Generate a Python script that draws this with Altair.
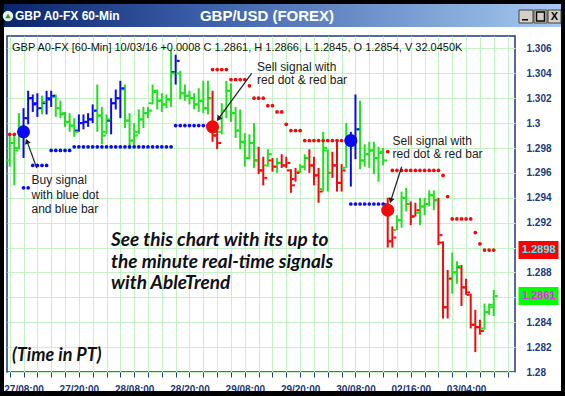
import math
import altair as alt
import pandas as pd

# ---------------- GBP/USD 60-minute bars (oldest first) ----------------
opens = [1.2970, 1.2984, 1.2980, 1.2994, 1.3004, 1.3020, 1.3015, 1.3012, 1.3016, 1.3020,
         1.3021, 1.3012, 1.3007, 1.3001, 1.2998, 1.2994, 1.3000, 1.3001, 1.3003, 1.3010,
         1.3006, 1.2993, 1.3002, 1.3016, 1.3020, 1.3027, 1.3002, 1.2986, 1.2993, 1.3003,
         1.3008, 1.3016, 1.3025, 1.3018, 1.3015, 1.3019, 1.3041, 1.3040, 1.3024, 1.3022,
         1.3020, 1.3015, 1.3018, 1.3012, 1.3020, 1.2990, 1.2993, 1.3010, 1.3026, 1.3008,
         1.2994, 1.2985, 1.2972, 1.2984, 1.2970, 1.2962, 1.2966, 1.2970, 1.2965, 1.2968,
         1.2966, 1.2962, 1.2955, 1.2961, 1.2965, 1.2972, 1.2966, 1.2958, 1.2947, 1.2978,
         1.2960, 1.2966, 1.2952, 1.2964, 1.2985, 1.2988, 1.2995, 1.2970, 1.2975, 1.2978,
         1.2972, 1.2976, 1.2935, 1.2905, 1.2914, 1.2922, 1.2940, 1.2935, 1.2925, 1.2928,
         1.2933, 1.2935, 1.2942, 1.2938, 1.2904, 1.2852, 1.2875, 1.2880, 1.2884, 1.2868,
         1.2862, 1.2838, 1.2836, 1.2835, 1.2848, 1.2854]
highs = [1.2991, 1.2991, 1.3008, 1.3012, 1.3026, 1.3023, 1.3024, 1.3022, 1.3026, 1.3026,
         1.3023, 1.3018, 1.3009, 1.3008, 1.3004, 1.3007, 1.3007, 1.3008, 1.3015, 1.3031,
         1.3013, 1.3007, 1.3020, 1.3027, 1.3034, 1.3031, 1.3008, 1.3000, 1.3011, 1.3013,
         1.3013, 1.3031, 1.3027, 1.3024, 1.3023, 1.3059, 1.3055, 1.3042, 1.3031, 1.3026,
         1.3024, 1.3028, 1.3034, 1.3034, 1.3026, 1.2999, 1.3016, 1.3034, 1.3032, 1.3013,
         1.3011, 1.2992, 1.2991, 1.3000, 1.2981, 1.2973, 1.2979, 1.2972, 1.2972, 1.2975,
         1.2973, 1.2963, 1.2964, 1.2967, 1.2975, 1.2979, 1.2973, 1.2964, 1.2993, 1.2979,
         1.2977, 1.2985, 1.2967, 1.3000, 1.2993, 1.3023, 1.3018, 1.2983, 1.2985, 1.2985,
         1.2981, 1.2980, 1.2940, 1.2917, 1.2926, 1.2945, 1.2948, 1.2937, 1.2936, 1.2940,
         1.2940, 1.2946, 1.2946, 1.2940, 1.2905, 1.2882, 1.2896, 1.2889, 1.2886, 1.2875,
         1.2863, 1.2850, 1.2842, 1.2855, 1.2855, 1.2866]
lows = [1.2965, 1.2950, 1.2979, 1.2972, 1.2999, 1.3009, 1.3005, 1.3007, 1.3007, 1.3013,
        1.3005, 1.3004, 1.2997, 1.2993, 1.2989, 1.2993, 1.2995, 1.2997, 1.3000, 1.2993,
        1.2983, 1.2991, 1.2991, 1.3011, 1.3004, 1.2996, 1.2979, 1.2981, 1.2991, 1.2996,
        1.3004, 1.3015, 1.3011, 1.3009, 1.3012, 1.3013, 1.3031, 1.3019, 1.3018, 1.3015,
        1.3011, 1.3009, 1.3008, 1.3007, 1.2985, 1.2979, 1.2991, 1.3004, 1.3001, 1.2988,
        1.2979, 1.2965, 1.2971, 1.2964, 1.2959, 1.2950, 1.2965, 1.2961, 1.2960, 1.2964,
        1.2964, 1.2944, 1.2953, 1.2960, 1.2962, 1.2960, 1.2950, 1.2936, 1.2945, 1.2945,
        1.2956, 1.2945, 1.2945, 1.2964, 1.2949, 1.2971, 1.2963, 1.2965, 1.2964, 1.2959,
        1.2953, 1.2966, 1.2900, 1.2900, 1.2914, 1.2916, 1.2929, 1.2918, 1.2925, 1.2918,
        1.2926, 1.2933, 1.2930, 1.2902, 1.2843, 1.2843, 1.2863, 1.2871, 1.2853, 1.2862,
        1.2835, 1.2816, 1.2830, 1.2834, 1.2846, 1.2845]
closes = [1.2984, 1.2978, 1.2997, 1.3004, 1.3020, 1.3016, 1.3012, 1.3017, 1.3019, 1.3022,
          1.3012, 1.3008, 1.3001, 1.2998, 1.2993, 1.3000, 1.3001, 1.3003, 1.3010, 1.3006,
          1.2990, 1.3003, 1.3016, 1.3020, 1.3028, 1.3002, 1.2986, 1.2990, 1.3003, 1.3008,
          1.3010, 1.3026, 1.3018, 1.3015, 1.3019, 1.3040, 1.3050, 1.3024, 1.3022, 1.3020,
          1.3015, 1.3018, 1.3012, 1.3020, 1.2990, 1.2984, 1.3010, 1.3026, 1.3008, 1.2994,
          1.2985, 1.2972, 1.2984, 1.2970, 1.2962, 1.2956, 1.2975, 1.2965, 1.2968, 1.2966,
          1.2968, 1.2950, 1.2960, 1.2965, 1.2972, 1.2966, 1.2958, 1.2945, 1.2980, 1.2960,
          1.2966, 1.2952, 1.2962, 1.2985, 1.2988, 1.2995, 1.2970, 1.2975, 1.2978, 1.2972,
          1.2977, 1.2970, 1.2905, 1.2908, 1.2922, 1.2940, 1.2935, 1.2925, 1.2930, 1.2933,
          1.2935, 1.2942, 1.2938, 1.2910, 1.2852, 1.2875, 1.2880, 1.2885, 1.2868, 1.2864,
          1.2838, 1.2836, 1.2833, 1.2848, 1.2852, 1.2861]
# AbleTrend bar colour: G = neutral (green), B = up trend (blue), R = down trend (red)
trend = list("GGGBBBBGBB" "GGGGGBBBBG" "GGBBBGGGGG" "GGGGGGBGGG" "GGGGRRGGGG"
             "GGGGRRGRGR" "RRRGGRRRGG" "RRRGBBGGGG" "GGRRGGGRRG" "GGGRRRGGRR" "RRRGGG")

# AbleTrend stop dots per bar (None = no stop plotted), and their side
stop_level = ([1.2991, 1.2991, None] + [1.2948] * 2 + [1.2966] * 4 + [1.2978] * 5 + [1.2981] * 22
              + [1.2998] * 8 + [1.3043] * 4 + [1.3035] * 4 + [1.3030] + [1.3020] * 3 + [1.3014] * 2
              + [1.3009] * 2 + [1.2999] + [1.2994] * 3 + [1.2986] * 10 + [1.2935] * 8 + [1.2977]
              + [1.2962] * 11 + [1.2958, 1.2941] + [1.2923] * 5 + [1.2912, 1.2903] + [1.2898] * 3)
stop_side = (["R", "R", ""] + ["B"] * 41 + ["R"] * 30 + ["B"] * 8 + ["R"] * 24)

# Buy / sell signal markers
signal_bar = [3, 44, 74, 82]
signal_price = [1.2993, 1.2997, 1.2986, 1.2930]
signal_side = ["B", "R", "B", "R"]

# Time axis (Pacific time), one label every 12 bars
time_label_bar = [3, 15, 27, 39, 51, 63, 75, 87, 99]
time_label_text = ["27/08:00", "27/20:00", "28/08:00", "28/20:00", "29/08:00",
                   "29/20:00", "30/08:00", "02/16:00", "03/04:00"]

# Flags on the price scale: current stop and last close
stop_flag_price = 1.2898
close_flag_price = 1.2861

# ---------------- layout ----------------
PLOT_W, PLOT_H = 508, 336
X_MIN = -0.586
X_MAX = X_MIN + PLOT_W / 4.61
Y_MIN, Y_MAX = 1.28, 1.307
PX_BAR = PLOT_W / (X_MAX - X_MIN)
PX_UNIT = PLOT_H / (Y_MAX - Y_MIN)

GREEN, BLUE, RED = "#1ee11e", "#0a0af0", "#f00a0a"
NAVY = "#1b3a7a"
GRID = "#c4f2c4"
color_scale = alt.Scale(domain=["G", "B", "R"], range=[GREEN, BLUE, RED])

n = len(opens)
bars = pd.DataFrame({"bar": list(range(n)), "open": opens, "high": highs,
                     "low": lows, "close": closes, "trend": trend})
stops = pd.DataFrame({"bar": list(range(n)), "level": stop_level, "side": stop_side}).dropna()
signals = pd.DataFrame({"bar": signal_bar, "price": signal_price, "side": signal_side})

label_expr = " : ".join(f"datum.value == {b} ? '{t}'" for b, t in zip(time_label_bar, time_label_text)) + " : ''"
# price labels hidden where a flag sits on top of them
covered = " || ".join(f"abs(datum.value - {p}) < 0.0007" for p in (stop_flag_price, close_flag_price))
price_expr = f"({covered}) ? '' : format(datum.value, '.3~f')"

x_axis = alt.Axis(values=list(range(0, 109, 3)), labelExpr=label_expr, grid=True, gridColor=GRID,
                  gridWidth=1, domain=False, tickColor=NAVY, tickSize=5, tickWidth=1,
                  labelFont="Liberation Sans", labelFontSize=10, labelFontWeight="bold",
                  labelColor=NAVY, labelPadding=7, labelAngle=0, labelOverlap=False,
                  labelFlush=False, title=None)
y_axis = alt.Axis(orient="right", values=[round(1.28 + 0.002 * i, 3) for i in range(14)],
                  labelExpr=price_expr, grid=True, gridColor=GRID, gridWidth=1,
                  domain=False, ticks=False, labelFont="Liberation Sans", labelFontSize=10,
                  labelFontWeight="bold", labelColor=NAVY, labelAlign="left", labelPadding=11,
                  title=None)
xs = alt.Scale(domain=[X_MIN, X_MAX], nice=False, zero=False)
ys = alt.Scale(domain=[Y_MIN, Y_MAX], nice=False, zero=False)


def X(field):
    return alt.X(f"{field}:Q", scale=xs, axis=x_axis, title=None)


def Y(field):
    return alt.Y(f"{field}:Q", scale=ys, axis=y_axis, title=None)


def px_to_data(x, y):
    return X_MIN + x / PX_BAR, Y_MAX - y / PX_UNIT


one = pd.DataFrame({"k": [0]})

# high-low bars with open (left) and close (right) ticks
hl = alt.Chart(bars).mark_rule(strokeWidth=2).encode(
    x=X("bar"), y=Y("low"), y2="high:Q", color=alt.Color("trend:N", scale=color_scale, legend=None))
op = alt.Chart(bars).mark_tick(orient="horizontal", size=3, thickness=2, xOffset=-2.5, opacity=1).encode(
    x=X("bar"), y=Y("open"), color=alt.Color("trend:N", scale=color_scale, legend=None))
cl = alt.Chart(bars).mark_tick(orient="horizontal", size=3, thickness=2, xOffset=2.5, opacity=1).encode(
    x=X("bar"), y=Y("close"), color=alt.Color("trend:N", scale=color_scale, legend=None))

dots = alt.Chart(stops).mark_circle(size=14, opacity=1).encode(
    x=X("bar"), y=Y("level"), color=alt.Color("side:N", scale=color_scale, legend=None))
sig = alt.Chart(signals).mark_circle(size=170, opacity=1).encode(
    x=X("bar"), y=Y("price"), color=alt.Color("side:N", scale=color_scale, legend=None))

# annotation arrows: from the caption towards the signal dot
arrow_tail_px = [(29.7, 132.0), (244.7, 37.3), (394.7, 130.7)]
arrow_signal = [0, 1, 3]
rows = []
for (tx, ty), s in zip(arrow_tail_px, arrow_signal):
    hx = (signal_bar[s] - X_MIN) * PX_BAR
    hy = (Y_MAX - signal_price[s]) * PX_UNIT
    dx, dy = hx - tx, hy - ty
    length = math.hypot(dx, dy)
    ux, uy = dx / length, dy / length
    ex, ey = hx - ux * 7.0, hy - uy * 7.0
    cx, cy = ex - ux * 3.0, ey - uy * 3.0
    t_i, t_p = px_to_data(tx, ty)
    e_i, e_p = px_to_data(ex - ux * 4, ey - uy * 4)
    c_i, c_p = px_to_data(cx, cy)
    rows.append({"x": t_i, "y": t_p, "x2": e_i, "y2": e_p, "hx": c_i, "hy": c_p,
                 "ang": (math.degrees(math.atan2(ux, -uy)) + 360) % 360})
arrows = pd.DataFrame(rows)
arrow_lines = alt.Chart(arrows).mark_rule(strokeWidth=1.2, color="#222222").encode(
    x=X("x"), y=Y("y"), x2="x2:Q", y2="y2:Q")
arrow_heads = alt.Chart(arrows).mark_point(shape="triangle-up", filled=True, size=38, opacity=1,
                                           color="#222222").encode(
    x=X("hx"), y=Y("hy"), angle=alt.Angle("ang:Q", scale=None))


# price flags on the right scale
def flag(price, fill, ink):
    d = pd.DataFrame({"price": [price], "text": [f"{price:.4f}"]})
    box_ = alt.Chart(d).mark_tick(orient="vertical", size=18, thickness=40, opacity=1, color=fill).encode(
        x=alt.value(531.5), y=Y("price"))
    txt = alt.Chart(d).mark_text(align="left", baseline="middle", font="Liberation Sans", fontSize=11,
                                 fontWeight="bold", color=ink).encode(
        x=alt.value(515), y=Y("price"), text="text:N")
    return [box_, txt]


flags = flag(stop_flag_price, "#ff0000", "#40f0ff") + flag(close_flag_price, "#00ff00", "#ff20ff")


def label(x, y, text, size=12, weight="normal", style="normal", color="#222222", font="Liberation Sans",
          align="left", baseline="middle", line=None):
    mk = dict(align=align, baseline=baseline, font=font, fontSize=size, fontWeight=weight,
              fontStyle=style, color=color)
    if line:
        mk["lineHeight"] = line
    return alt.Chart(one).mark_text(**mk).encode(x=alt.value(x), y=alt.value(y), text=alt.value(text))


def box(x, y, x2, y2, fill, stroke=None):
    mk = dict(color=fill, opacity=1)
    if stroke:
        mk.update(stroke=stroke, strokeWidth=1)
    return alt.Chart(one).mark_rect(**mk).encode(
        x=alt.value(x), x2=alt.value(x2), y=alt.value(y), y2=alt.value(y2))


texts = [
    label(5, 12, "GBP A0-FX [60-Min] 10/03/16 +0.0008 C 1.2861, H 1.2866, L 1.2845, O 1.2854, V 32.0450K",
          size=11, color="#111111"),
    label(24.5, 139, ["Buy signal", "with blue dot", "and blue bar"], baseline="top", line=14.5),
    label(250, 25.5, ["Sell signal with", "red dot & red bar"], baseline="top", line=13.5),
    label(385.5, 99.5, ["Sell signal with", "red dot & red bar"], baseline="top", line=13.5),
    label(104, 195, ["See this chart with its up to", "the minute real-time signals", "with AbleTrend"],
          size=19, weight="bold", style="italic", font="Lato", color="#101018", baseline="top", line=21.5),
    label(5, 320, "(Time in PT)", size=18, weight="bold", style="italic", font="Lato",
          color="#111111", baseline="middle"),
]

# window chrome: black border, caption bar and buttons
title_grad = alt.LinearGradient(gradient="linear", x1=0, x2=1, y1=0, y2=0,
                                stops=[alt.GradientStop(color="#0a246a", offset=0),
                                       alt.GradientStop(color="#3a5ea8", offset=0.35),
                                       alt.GradientStop(color="#a6caf0", offset=1)])
chrome = [
    box(-7, -36, 558, -32, "#000000"),
    box(-7, -36, -3, 360, "#000000"),
    box(554, -36, 558, 360, "#000000"),
    box(-7, 355, 558, 360, "#000000"),
    alt.Chart(one).mark_rect(color=title_grad).encode(
        x=alt.value(-3), x2=alt.value(554), y=alt.value(-32), y2=alt.value(-9)),
    alt.Chart(one).mark_circle(size=110, color="#e8efe8", opacity=1).encode(x=alt.value(1), y=alt.value(-20)),
    alt.Chart(one).mark_point(shape="triangle-up", filled=True, size=30, color="#2a9a2a", opacity=1).encode(
        x=alt.value(1), y=alt.value(-20)),
    label(8, -20.5, "GBP A0-FX 60-Min", size=12, weight="bold", color="#ffffff"),
    label(260, -20.5, "GBP/USD (FOREX)", size=15, weight="bold", color="#ffffff", align="center"),
    box(512, -26, 526, -13, "#d4d0c8", "#404040"),
    box(527, -26, 540, -13, "#d4d0c8", "#404040"),
    box(541, -26, 554, -13, "#d4d0c8", "#404040"),
    box(515, -17, 521, -15.5, "#000000"),
    alt.Chart(one).mark_rect(filled=False, stroke="#000000", strokeWidth=1.5).encode(
        x=alt.value(529.5), x2=alt.value(537.5), y=alt.value(-24), y2=alt.value(-15)),
    label(547.5, -19.5, "X", size=11, weight="bold", color="#000000", align="center"),
]

chart = alt.layer(
    hl, op, cl, dots, sig, arrow_lines, arrow_heads, *flags, *texts, *chrome
).properties(
    width=PLOT_W, height=PLOT_H,
    autosize=alt.AutoSizeParams(type="none"),
    padding={"left": 7, "top": 36, "right": 50, "bottom": 24},
).configure(background="#ffffff").configure_view(stroke=NAVY, strokeWidth=1.5, fill="#ffffff")

chart.save("out.html", embed_options={"renderer": "svg", "actions": False})
